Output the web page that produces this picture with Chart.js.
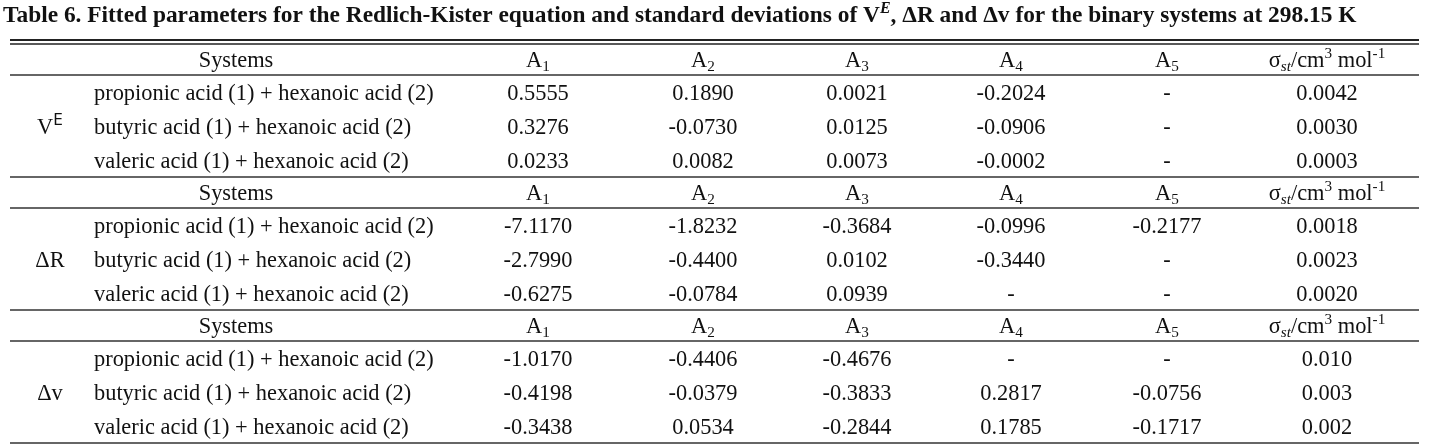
<!DOCTYPE html>
<html>
<head>
<meta charset="utf-8">
<script src="https://cdn.jsdelivr.net/npm/chart.js@4.4.1/dist/chart.umd.min.js"></script>
<style>
  html, body { margin: 0; padding: 0; background: #fff; }
  #wrap { width: 1439px; height: 445px; position: relative; }
</style>
</head>
<body>
<div id="wrap"><canvas id="tbl"></canvas></div>
<script>
// table content
const titleText = 'Table 6. Fitted parameters for the Redlich-Kister equation and standard deviations of ';
const groups = ['VE', 'ΔR', 'Δv'];
const systems = [
    'propionic acid (1) + hexanoic acid (2)',
    'butyric acid (1) + hexanoic acid (2)',
    'valeric acid (1) + hexanoic acid (2)'
];
const paramNames = ['1', '2', '3', '4', '5'];
const vE = [
    ['0.5555', '0.1890', '0.0021', '-0.2024', '-', '0.0042'],
    ['0.3276', '-0.0730', '0.0125', '-0.0906', '-', '0.0030'],
    ['0.0233', '0.0082', '0.0073', '-0.0002', '-', '0.0003']
];
const dR = [
    ['-7.1170', '-1.8232', '-0.3684', '-0.0996', '-0.2177', '0.0018'],
    ['-2.7990', '-0.4400', '0.0102', '-0.3440', '-', '0.0023'],
    ['-0.6275', '-0.0784', '0.0939', '-', '-', '0.0020']
];
const dv = [
    ['-1.0170', '-0.4406', '-0.4676', '-', '-', '0.010'],
    ['-0.4198', '-0.0379', '-0.3833', '0.2817', '-0.0756', '0.003'],
    ['-0.3438', '0.0534', '-0.2844', '0.1785', '-0.1717', '0.002']
];
const blocks = [vE, dR, dv];

// layout (in px units of the hidden scales)
const LEFT = 10, RIGHT = 1419;
const colGroup = 50, colSysLeft = 94, colSysHead = 236;
const colVals = [538, 703, 857, 1011, 1167, 1327];
const tableTop = 44, headH = 31, rowH = 34;
const SERIF = '"Liberation Serif", "DejaVu Serif", serif';
const FS = 22.4;

// draw a run of segments: {t, s:'sub'|'sup', i:italic, b:bold}
function setFont(ctx, sg, size) {
    const fs = sg.s ? size * 0.68 : size;
    ctx.font = (sg.i ? 'italic ' : '') + (sg.b ? 'bold ' : '') + fs + 'px ' + (sg.f || SERIF);
}
function runWidth(ctx, segs, size) {
    let w = 0;
    segs.forEach(sg => {
        setFont(ctx, sg, size);
        w += ctx.measureText(sg.t).width;
    });
    return w;
}
function drawRun(ctx, segs, x, y, size, align) {
    let cx = align === 'center' ? x - runWidth(ctx, segs, size) / 2 : x;
    ctx.textAlign = 'left';
    ctx.textBaseline = 'alphabetic';
    segs.forEach(sg => {
        setFont(ctx, sg, size);
        let dy = 0;
        if (sg.s === 'sub') dy = size * 0.2;
        if (sg.s === 'sup') dy = -size * 0.38;
        ctx.fillText(sg.t, cx, y + dy);
        cx += ctx.measureText(sg.t).width;
    });
}

function headerSegs(k) {
    if (k < 5) return [{ t: 'A' }, { t: paramNames[k], s: 'sub' }];
    return [{ t: 'σ' }, { t: 'st', s: 'sub', i: true }, { t: '/cm' }, { t: '3', s: 'sup' }, { t: ' mol' }, { t: '-1', s: 'sup' }];
}
function groupSegs(g) {
    if (g === 0) return [{ t: 'V' }, { t: 'E', s: 'sup', f: '"DejaVu Sans", sans-serif' }];
    return [{ t: groups[g] }];
}

const tablePlugin = {
    id: 'tablePlugin',
    afterDraw(chart) {
        const ctx = chart.ctx;
        const xs = chart.scales.x, ys = chart.scales.y;
        const px = v => xs.getPixelForValue(v);
        const py = v => ys.getPixelForValue(v);
        ctx.save();
        ctx.fillStyle = '#111';

        // title
        drawRun(ctx, [
            { t: titleText, b: true },
            { t: 'V', b: true },
            { t: 'E', s: 'sup', b: true, i: true },
            { t: ', ΔR and Δv for the binary systems at 298.15 K', b: true }
        ], px(3), py(22), 23.4, 'left');

        const hline = (y, w, c) => {
            ctx.beginPath();
            ctx.strokeStyle = c || '#222';
            ctx.lineWidth = w;
            ctx.moveTo(px(LEFT), py(y));
            ctx.lineTo(px(RIGHT), py(y));
            ctx.stroke();
        };
        // top double rule
        hline(tableTop - 4, 2);
        hline(tableTop, 1.3);

        blocks.forEach((rows, b) => {
            const top = tableTop + b * (headH + 3 * rowH);
            const hy = top + headH / 2 + 7;
            drawRun(ctx, [{ t: 'Systems' }], px(colSysHead), py(hy), FS, 'center');
            colVals.forEach((cx, k) => drawRun(ctx, headerSegs(k), px(cx), py(hy), FS, 'center'));
            hline(top + headH, 1.6, '#333');
            rows.forEach((r, i) => {
                const ry = top + headH + rowH * i + rowH / 2 + 7.5;
                drawRun(ctx, [{ t: systems[i] }], px(colSysLeft), py(ry), FS, 'left');
                r.forEach((v, k) => drawRun(ctx, [{ t: v }], px(colVals[k]), py(ry), FS, 'center'));
                if (i === 1) drawRun(ctx, groupSegs(b), px(colGroup), py(ry), FS, 'center');
            });
            hline(top + headH + 3 * rowH, 1.6, '#333');
        });
        ctx.restore();
    }
};

new Chart(document.getElementById('tbl'), {
    type: 'scatter',
    data: { datasets: [{ data: [], pointRadius: 0 }] },
    options: {
        responsive: true,
        maintainAspectRatio: false,
        animation: false,
        layout: { padding: 0 },
        plugins: { legend: { display: false }, tooltip: { enabled: false } },
        scales: {
            x: { type: 'linear', min: 0, max: 1439, display: false },
            y: { type: 'linear', min: 0, max: 445, reverse: true, display: false }
        }
    },
    plugins: [tablePlugin]
});
</script>
</body>
</html>
